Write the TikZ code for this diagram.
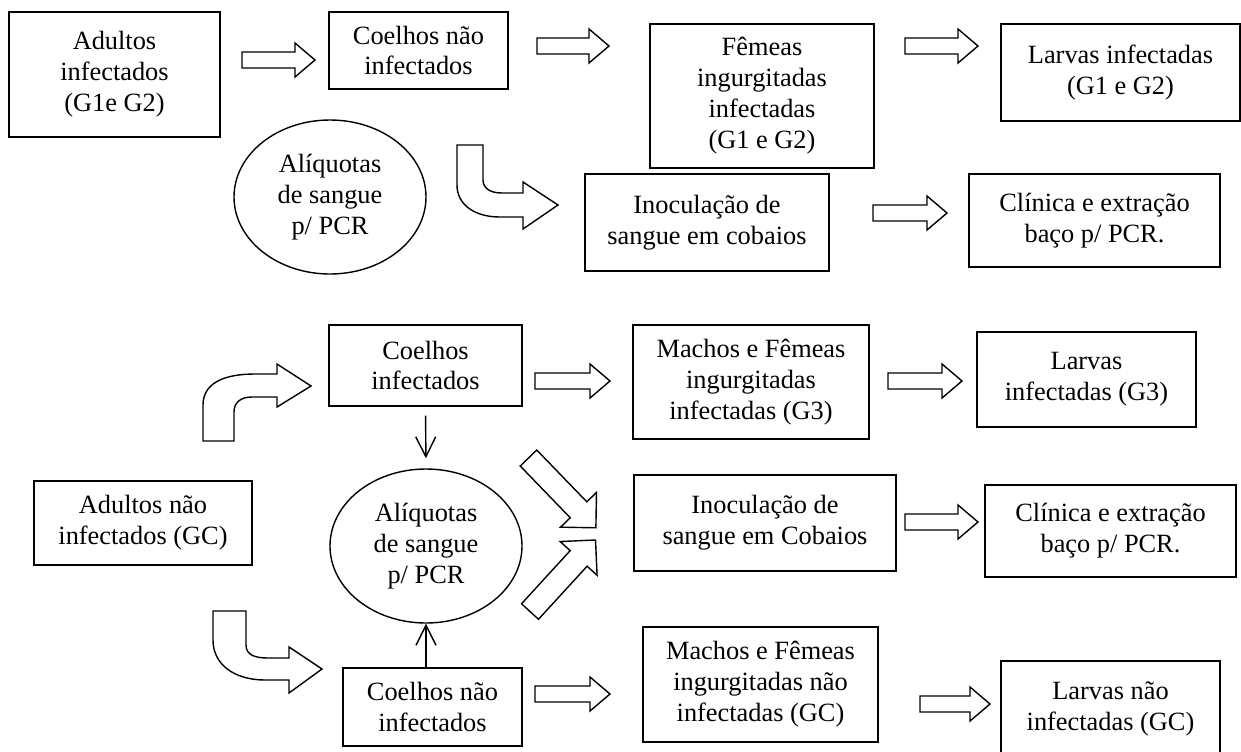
\documentclass[tikz,border=0pt]{standalone}
\usepackage{fontspec}
\setmainfont{Liberation Serif}
\usetikzlibrary{shapes.geometric,arrows.meta}

\tikzset{
  box/.style={draw, line width=0.8pt, align=center, inner sep=0pt, font=\fontsize{15}{17.6}\selectfont},
  blob/.style={box, ellipse, minimum width=38.4mm, minimum height=30.8mm},
  hollow/.style={draw, line width=0.8pt, line join=miter, fill=white},
  linkarrow/.style={line width=0.8pt, -{Straight Barb[length=4mm,width=4mm]}}
}
% start, angle, length, shaft half width, head half width, head length
\newcommand{\hollowarrow}[6]{%
  \draw[hollow, shift={#1}, rotate=#2] (0,-#4) -- (#3-#6,-#4) -- (#3-#6,-#5) -- (#3,0)
    -- (#3-#6,#5) -- (#3-#6,#4) -- (0,#4) -- cycle;}

\begin{document}
\begin{tikzpicture}[x=0.2mm,y=-0.2mm]
  \fill[white] (0,0) rectangle (1241,751);
  \useasboundingbox (0,0) rectangle (1241,751);

  % infected adults
  \node[box, minimum width=42.2mm, minimum height=25mm] (adinf) at (114.5,74.5) {Adultos\\infectados\\(G1e G2)};
  \node[box, minimum width=35.8mm, minimum height=15.4mm] (coel) at (418.5,50.5) {Coelhos não\\infectados};
  \node[box, minimum width=44.8mm, minimum height=28.8mm] (femeas) at (762,96) {Fêmeas\\ingurgitadas\\infectadas\\(G1 e G2)};
  \node[box, minimum width=47.8mm, minimum height=19.4mm] (larvas) at (1120.5,72.5) {Larvas infectadas\\(G1 e G2)};
  \node[blob] (aliq) at (330,197) {Alíquotas\\de sangue\\p/ PCR};
  \node[box, minimum width=48.8mm, minimum height=19.4mm] (inoc) at (707,222.5) {Inoculação de\\sangue em cobaios};
  \node[box, minimum width=50.2mm, minimum height=18.6mm] (clin) at (1094.5,220.5) {Clínica e extração\\baço p/ PCR.};

  \hollowarrow{(242,60)}{0}{73}{8}{17}{20}
  \hollowarrow{(537,46)}{0}{72}{8}{17}{20}
  \hollowarrow{(905,46)}{0}{73}{8}{17}{20}
  \hollowarrow{(873,213)}{0}{74}{8}{17}{20}
  \draw[hollow] (457,145) -- (483,145) -- (483,180) .. controls (483,188) and (490,193) .. (502,193)
    -- (523,193) -- (523,182) -- (558,205) -- (523,229) -- (523,217) -- (500,217)
    .. controls (475,217) and (457,205) .. (457,185) -- cycle;

  % non infected adults
  \node[box, minimum width=38.6mm, minimum height=16.2mm] (coelinf) at (425.5,365.5) {Coelhos\\infectados};
  \node[box, minimum width=47.2mm, minimum height=22.8mm] (machos) at (751,382) {Machos e Fêmeas\\ingurgitadas\\infectadas (G3)};
  \node[box, minimum width=43.8mm, minimum height=19mm] (larvasg) at (1086.5,379.5) {Larvas\\infectadas (G3)};
  \node[box, minimum width=43.6mm, minimum height=16.8mm] (adnao) at (143,523) {Adultos não\\infectados (GC)};
  \node[blob] (aliqb) at (426,546) {Alíquotas\\de sangue\\p/ PCR};
  \node[box, minimum width=52.4mm, minimum height=19.2mm] (inocb) at (765,523) {Inoculação de\\sangue em Cobaios};
  \node[box, minimum width=50.2mm, minimum height=18.4mm] (clinb) at (1110.5,531) {Clínica e extração\\baço p/ PCR.};
  \node[box, minimum width=35.8mm, minimum height=15.6mm] (coelnao) at (432.5,707) {Coelhos não\\infectados};
  \node[box, minimum width=47mm, minimum height=23mm] (machosnao) at (760.5,684.5) {Machos e Fêmeas\\ingurgitadas não\\infectadas (GC)};
  \node[box, minimum width=43.8mm, minimum height=19.2mm] (larvasnao) at (1110.5,709) {Larvas não\\infectadas (GC)};

  \hollowarrow{(535,381)}{0}{75}{8}{17}{20}
  \hollowarrow{(888,381)}{0}{74}{8}{17}{20}
  \hollowarrow{(905,522)}{0}{73}{8}{17}{20}
  \hollowarrow{(535,694)}{0}{75}{8}{17}{20}
  \hollowarrow{(920,704)}{0}{70}{8}{17}{20}
  \hollowarrow{(528.5,458)}{-46}{97}{11.5}{25}{25}
  \hollowarrow{(530,611.5)}{47.5}{97}{11.5}{25}{25}
  \draw[hollow] (203,441) -- (203,405) .. controls (203,380) and (230,374) .. (255,374) -- (277,374)
    -- (277,364) -- (311,386) -- (277,407) -- (277,397) -- (252,397)
    .. controls (240,397) and (234,403) .. (234,412) -- (234,441) -- cycle;
  \draw[hollow] (213,611) -- (246,611) -- (246,645) .. controls (246,655) and (255,658) .. (268,658)
    -- (289,658) -- (289,647) -- (322,669) -- (289,693) -- (289,680) -- (265,680)
    .. controls (235,680) and (213,665) .. (213,640) -- cycle;

  \draw[linkarrow, shorten <=1.8mm, shorten >=2mm] (coelinf.south) -- (aliqb.north);
  \draw[linkarrow] (aliqb.south |- coelnao.north) -- (aliqb.south);
\end{tikzpicture}
\end{document}
